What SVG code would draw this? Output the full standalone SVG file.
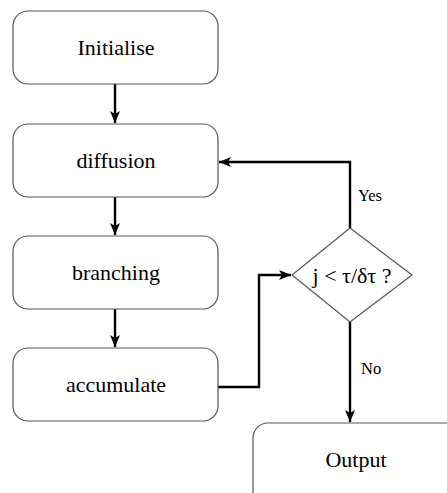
<svg xmlns="http://www.w3.org/2000/svg" width="447" height="493" viewBox="0 0 447 493">
<style>
.box{fill:#fff;stroke:#555;stroke-width:1.2}
.lbl{font-family:"Liberation Serif",serif;font-size:22px;fill:#000;text-anchor:middle}
.sm{font-family:"Liberation Serif",serif;font-size:16.5px;fill:#000}
.edge{fill:none;stroke:#000;stroke-width:2.4}
</style>
<defs>
<marker id="arr" viewBox="0 0 12 10" refX="12" refY="5" markerWidth="12" markerHeight="10" orient="auto" markerUnits="userSpaceOnUse">
<path d="M0,0 L12,5 L0,10 L3,5 Z" fill="#000"/>
</marker>
</defs>
<rect width="447" height="493" fill="#fff"/>
<g id="connectors">
<path class="edge" d="M115,84 V123" marker-end="url(#arr)"/>
<path class="edge" d="M115,197 V235" marker-end="url(#arr)"/>
<path class="edge" d="M115,309 V347" marker-end="url(#arr)"/>
<path class="edge" d="M218,387 H259 V275 H291" marker-end="url(#arr)"/>
<path class="edge" d="M350,228 V162 H219" marker-end="url(#arr)"/>
<path class="edge" d="M350,322 V422" marker-end="url(#arr)"/>
<text class="sm" x="358" y="201">Yes</text>
<text class="sm" x="361" y="374">No</text>
</g>
<g id="initialise"><rect class="box" x="13" y="11" width="205" height="73" rx="15"/><text class="lbl" x="116" y="55">Initialise</text></g>
<g id="diffusion"><rect class="box" x="13" y="124" width="205" height="73" rx="15"/><text class="lbl" x="116" y="168">diffusion</text></g>
<g id="branching"><rect class="box" x="13" y="236" width="205" height="73" rx="15"/><text class="lbl" x="116" y="280">branching</text></g>
<g id="accumulate"><rect class="box" x="13" y="348" width="205" height="73" rx="15"/><text class="lbl" x="116" y="392">accumulate</text></g>
<g id="decision"><polygon class="box" points="350,228 412,275 350,322 292,275"/><text class="lbl" x="352" y="283">j &lt; τ/δτ ?</text></g>
<g id="output"><rect class="box" x="253" y="423" width="230" height="100" rx="15"/><text class="lbl" x="356" y="467">Output</text></g>
</svg>
